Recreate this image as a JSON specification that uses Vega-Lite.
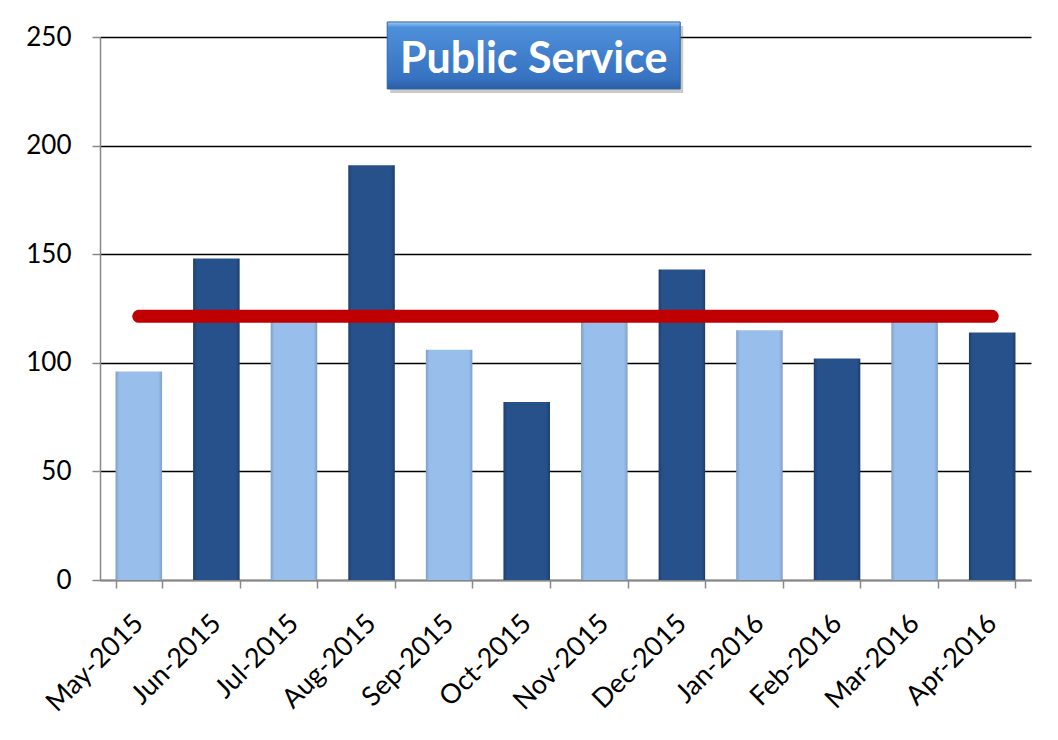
{
  "$schema": "https://vega.github.io/schema/vega-lite/v6.json",
  "autosize": "none",
  "width": 931,
  "height": 543,
  "padding": {"left": 100, "top": 37, "right": 27, "bottom": 160},
  "background": "white",
  "config": {
    "view": {"stroke": null},
    "font": "Lato",
    "axis": {"labelFont": "Lato", "labelFontSize": 26, "labelColor": "black"}
  },
  "data": {
    "values": [
      {"month": "May-2015", "value": 96},
      {"month": "Jun-2015", "value": 148},
      {"month": "Jul-2015", "value": 119},
      {"month": "Aug-2015", "value": 191},
      {"month": "Sep-2015", "value": 106},
      {"month": "Oct-2015", "value": 82},
      {"month": "Nov-2015", "value": 121},
      {"month": "Dec-2015", "value": 143},
      {"month": "Jan-2016", "value": 115},
      {"month": "Feb-2016", "value": 102},
      {"month": "Mar-2016", "value": 120},
      {"month": "Apr-2016", "value": 114}
    ]
  },
  "encoding": {
    "x": {
      "field": "month",
      "type": "nominal",
      "scale": {
        "domain": ["May-2015", "Jun-2015", "Jul-2015", "Aug-2015", "Sep-2015", "Oct-2015", "Nov-2015", "Dec-2015", "Jan-2016", "Feb-2016", "Mar-2016", "Apr-2016"],
        "paddingInner": 0.4, "paddingOuter": 0.2
      },
      "axis": {
        "title": null,
        "labelAngle": -45,
        "labelAlign": "right",
        "labelBaseline": "middle",
        "labelFontSize": 27,
        "labelPadding": 31,
        "tickBand": "extent",
        "tickSize": 8,
        "tickColor": "#888888",
        "tickWidth": 1.5,
        "domainColor": "#888888",
        "domainWidth": 1.5,
        "grid": false
      }
    },
    "y": {
      "field": "value",
      "type": "quantitative",
      "scale": {"domain": [0, 250], "nice": false},
      "axis": {
        "title": null,
        "values": [0, 50, 100, 150, 200, 250],
        "tickSize": 8,
        "tickColor": "#888888",
        "tickWidth": 1.5,
        "domainColor": "#888888",
        "domainWidth": 1.5,
        "labelPadding": 21,
        "grid": true,
        "gridColor": "black",
        "gridWidth": 1.3
      }
    }
  },
  "layer": [
    {
      "transform": [{"filter": {"field": "month", "oneOf": ["May-2015", "Jul-2015", "Sep-2015", "Nov-2015", "Jan-2016", "Mar-2016"]}}],
      "mark": {
        "type": "bar",
        "fill": {"gradient": "linear", "x1": 0, "y1": 0, "x2": 1, "y2": 0,
          "stops": [{"offset": 0, "color": "#809FC8"}, {"offset": 0.08, "color": "#98BEEC"}, {"offset": 0.92, "color": "#98BEEC"}, {"offset": 1, "color": "#809FC8"}]}
      }
    },
    {
      "transform": [{"filter": {"field": "month", "oneOf": ["Jun-2015", "Aug-2015", "Oct-2015", "Dec-2015", "Feb-2016", "Apr-2016"]}}],
      "mark": {
        "type": "bar",
        "fill": {"gradient": "linear", "x1": 0, "y1": 0, "x2": 1, "y2": 0,
          "stops": [{"offset": 0, "color": "#1D3E6C"}, {"offset": 0.08, "color": "#27518B"}, {"offset": 0.92, "color": "#27518B"}, {"offset": 1, "color": "#1D3E6C"}]}
      }
    },
    {
      "transform": [{"joinaggregate": [{"op": "mean", "field": "value", "as": "avg"}]}],
      "mark": {"type": "line", "color": "#C00000", "strokeWidth": 13, "strokeCap": "round"},
      "encoding": {"y": {"field": "avg", "type": "quantitative"}}
    },
    {
      "transform": [{"filter": {"field": "month", "equal": "Oct-2015"}}],
      "mark": {
        "type": "point",
        "shape": "M-1,-0.2287L1,-0.2287L1,0.2287L-1,0.2287Z",
        "size": 85849,
        "filled": true,
        "fill": "#666666",
        "opacity": 1,
        "fillOpacity": 0.35,
        "strokeWidth": 0,
        "xOffset": 10,
        "yOffset": 4
      },
      "encoding": {"y": {"datum": 241.5}}
    },
    {
      "transform": [{"filter": {"field": "month", "equal": "Oct-2015"}}],
      "mark": {
        "type": "point",
        "shape": "M-1,-0.2287L1,-0.2287L1,0.2287L-1,0.2287Z",
        "size": 85849,
        "filled": true,
        "opacity": 1,
        "fill": {"gradient": "linear", "x1": 0, "y1": 0, "x2": 0, "y2": 1,
          "stops": [{"offset": 0, "color": "#9CCDF6"}, {"offset": 0.08, "color": "#4E8FDA"}, {"offset": 0.85, "color": "#3672C0"}, {"offset": 1, "color": "#2A5EA3"}]},
        "stroke": "#2F62A3",
        "strokeWidth": 1,
        "xOffset": 7
      },
      "encoding": {"y": {"datum": 241.5}}
    },
    {
      "transform": [{"filter": {"field": "month", "equal": "Oct-2015"}}],
      "mark": {
        "type": "text",
        "text": "Public Service",
        "font": "Lato",
        "fontWeight": "bold",
        "fontSize": 43,
        "color": "white",
        "opacity": 1,
        "align": "center",
        "baseline": "alphabetic",
        "xOffset": 7
      },
      "encoding": {"y": {"datum": 233.5}}
    }
  ]
}
